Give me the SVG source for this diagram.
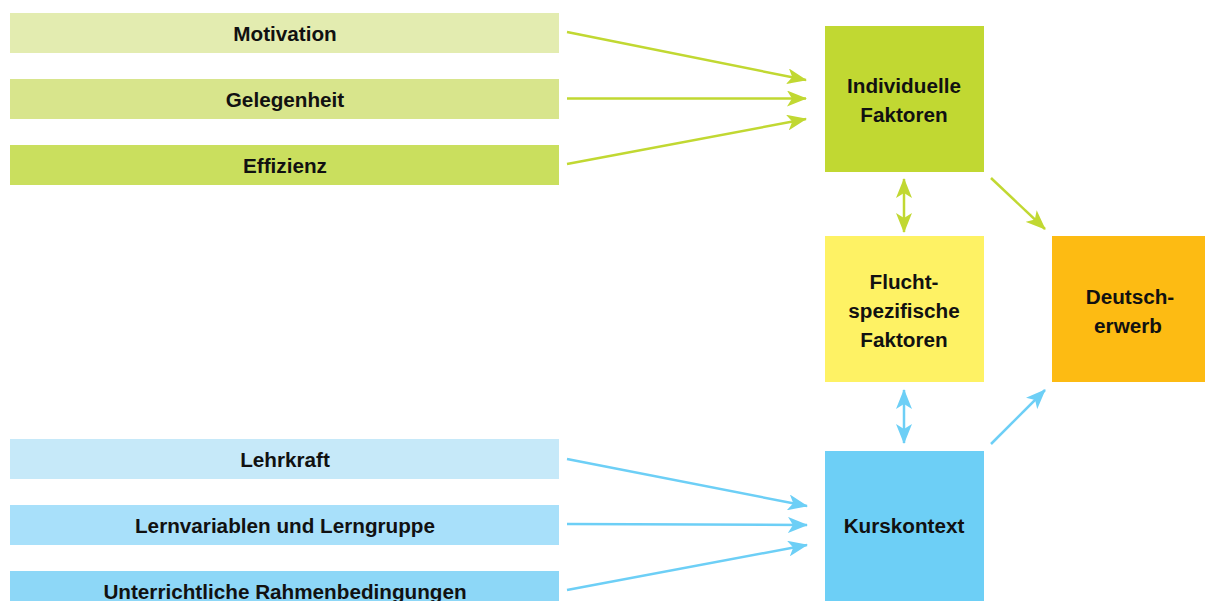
<svg xmlns="http://www.w3.org/2000/svg" width="1205" height="601" viewBox="0 0 1205 601">
<style>
text{font-family:"Liberation Sans",Arial,sans-serif;font-weight:bold;font-size:20.7px;fill:#111;text-anchor:middle}
.g{stroke:#c1d832;stroke-width:2.5;fill:none}
.b{stroke:#6dcff6;stroke-width:2.5;fill:none}
</style>
<defs>
<marker id="ag" markerUnits="userSpaceOnUse" markerWidth="22" markerHeight="16" refX="19" refY="8" orient="auto-start-reverse"><path d="M0,0 L20,8 L0,16 L5,8 Z" fill="#c1d832"/></marker>
<marker id="ab" markerUnits="userSpaceOnUse" markerWidth="22" markerHeight="16" refX="19" refY="8" orient="auto-start-reverse"><path d="M0,0 L20,8 L0,16 L5,8 Z" fill="#6dcff6"/></marker>
</defs>
<rect width="1205" height="601" fill="#fff"/>
<g id="motivation"><rect x="10" y="13" width="549" height="40" fill="#e3ecb0"/><text x="285" y="41">Motivation</text></g>
<g id="gelegenheit"><rect x="10" y="79" width="549" height="40" fill="#d8e58c"/><text x="285" y="107">Gelegenheit</text></g>
<g id="effizienz"><rect x="10" y="145" width="549" height="40" fill="#cadf5e"/><text x="285" y="173">Effizienz</text></g>
<g id="lehrkraft"><rect x="10" y="439" width="549" height="40" fill="#c6e9f9"/><text x="285" y="467">Lehrkraft</text></g>
<g id="lernvariablen"><rect x="10" y="505" width="549" height="40" fill="#a8e0fa"/><text x="285" y="533">Lernvariablen und Lerngruppe</text></g>
<g id="unterrichtliche"><rect x="10" y="571" width="549" height="40" fill="#8dd7f7"/><text x="285" y="599">Unterrichtliche Rahmenbedingungen</text></g>
<g id="individuelle"><rect x="825" y="26" width="159" height="146" fill="#c1d832"/><text x="904" y="93">Individuelle</text><text x="904" y="122">Faktoren</text></g>
<g id="flucht"><rect x="825" y="236" width="159" height="146" fill="#fef264"/><text x="904" y="289">Flucht-</text><text x="904" y="318">spezifische</text><text x="904" y="347">Faktoren</text></g>
<g id="deutsch"><rect x="1052" y="236" width="153" height="146" fill="#fdbb13"/><text x="1130" y="304">Deutsch-</text><text x="1128" y="333">erwerb</text></g>
<g id="kurs"><rect x="825" y="451" width="159" height="150" fill="#6dcff6"/><text x="904" y="533">Kurskontext</text></g>
<g id="connectors">
<line class="g" x1="567" y1="32" x2="806" y2="80" marker-end="url(#ag)"/>
<line class="g" x1="567" y1="98.5" x2="806" y2="98.5" marker-end="url(#ag)"/>
<line class="g" x1="567" y1="164" x2="806" y2="119" marker-end="url(#ag)"/>
<line class="g" x1="904" y1="179" x2="904" y2="232" marker-start="url(#ag)" marker-end="url(#ag)"/>
<line class="g" x1="991" y1="178" x2="1045" y2="229" marker-end="url(#ag)"/>
<line class="b" x1="904" y1="390" x2="904" y2="443" marker-start="url(#ab)" marker-end="url(#ab)"/>
<line class="b" x1="991" y1="444" x2="1045" y2="390" marker-end="url(#ab)"/>
<line class="b" x1="567" y1="459" x2="807" y2="506" marker-end="url(#ab)"/>
<line class="b" x1="567" y1="524" x2="807" y2="525" marker-end="url(#ab)"/>
<line class="b" x1="567" y1="590" x2="807" y2="545" marker-end="url(#ab)"/>
</g>
</svg>
